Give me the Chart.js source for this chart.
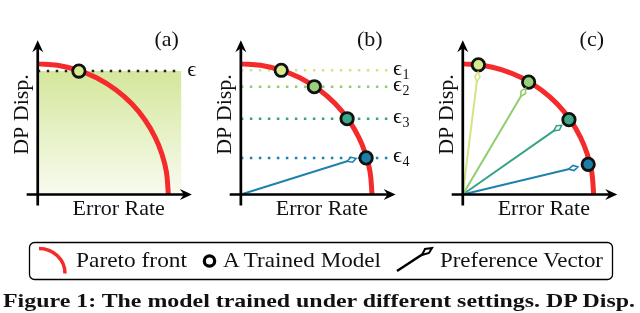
<!DOCTYPE html>
<html>
<head>
<meta charset="utf-8">
<script src="https://cdn.jsdelivr.net/npm/chart.js@4/dist/chart.umd.min.js"></script>
<style>
  body { margin: 0; background: #fff; width: 640px; height: 313px; overflow: hidden; position: relative; }
  canvas.panel { position: absolute; top: 20px; }
  #overlay { position: absolute; left: 0; top: 0; }
  #overlay text { font-family: "Liberation Serif", "DejaVu Serif", serif; font-size: 22px; fill: #111; }
</style>
</head>
<body>
<canvas id="panelA" class="panel" width="210" height="210" style="left:0px"></canvas>
<canvas id="panelB" class="panel" width="220" height="210" style="left:203px"></canvas>
<canvas id="panelC" class="panel" width="215" height="210" style="left:425px"></canvas>

<svg id="overlay" width="640" height="313">
  <rect x="29.5" y="242.5" width="583" height="37" rx="5" fill="none" stroke="#000" stroke-width="1.3"/>
  <path d="M39 248.5 A26 25 0 0 1 65 273.5" fill="none" stroke="#f52a2a" stroke-width="3.5"/>
  <text x="76" y="267" textLength="111" lengthAdjust="spacingAndGlyphs">Pareto front</text>
  <circle cx="209.5" cy="261" r="5.2" fill="#fff" stroke="#000" stroke-width="3.2"/>
  <text x="223" y="267" textLength="158" lengthAdjust="spacingAndGlyphs">A Trained Model</text>
  <line x1="397" y1="271" x2="423" y2="254" stroke="#000" stroke-width="2.5"/>
  <polygon points="422,255 425,249 432,248 429,253" fill="#fff" stroke="#000" stroke-width="2"/>
  <text x="440" y="267" textLength="163" lengthAdjust="spacingAndGlyphs">Preference Vector</text>
  <text x="3" y="307" font-weight="bold" style="font-size:19px" textLength="632" lengthAdjust="spacingAndGlyphs">Figure 1: The model trained under different settings. DP Disp.</text>
</svg>

<script>
// Pareto front (axes origin = 0,0; front reaches 1 on both axes)
const paretoX = [0, 0.15, 0.3, 0.45, 0.6, 0.72, 0.82, 0.9, 0.95, 0.985, 1.0];
const paretoY = [1.0, 0.989, 0.954, 0.893, 0.8, 0.694, 0.572, 0.436, 0.312, 0.173, 0.0];

// (a) one model under a single epsilon constraint
const modelAX = [0.315];
const modelAY = [0.945];
const epsA = 0.945;
const feasibleRightA = 1.1;

// (b) models under epsilon_1 .. epsilon_4
const modelBX = [0.308, 0.56, 0.81, 0.955];
const modelBY = [0.951, 0.825, 0.58, 0.28];
const epsSubB = ['1', '2', '3', '4'];
const vectorBX = [0.846];
const vectorBY = [0.266];

// (c) models under preference vectors
const modelCX = [0.119, 0.503, 0.811, 0.958];
const modelCY = [0.993, 0.86, 0.573, 0.231];
const vectorCX = [0.112, 0.462, 0.727, 0.846];
const vectorCY = [0.902, 0.783, 0.51, 0.203];

const modelColors = ['#d8ea8e', '#97d27a', '#3fa889', '#1c80a6'];
const lineColors = ['#d4e485', '#8fcd6f', '#35a38a', '#1f82ad'];

const RED = '#f52a2a';
const FONT = '"Liberation Serif", "DejaVu Serif", serif';
const UNIT = 142.86; // px per unit, same on both axes
const X_MIN = -0.22, Y_MIN = -0.203, Y_MAX = 1.267;

const toPoints = (xs, ys) => xs.map((x, i) => ({ x: x, y: ys[i] }));

function paretoDataset() {
    return {
        data: toPoints(paretoX, paretoY),
        showLine: true,
        borderColor: RED,
        borderWidth: 5,
        tension: 0.4,
        pointRadius: 0,
        fill: false,
        order: 1
    };
}

function modelDataset(xs, ys, colors) {
    return {
        data: toPoints(xs, ys),
        showLine: false,
        pointRadius: 6.2,
        pointBorderWidth: 2.8,
        pointBorderColor: '#111',
        pointBackgroundColor: colors,
        order: 0
    };
}

function epsDataset(y, right, color) {
    return {
        data: [{ x: 0, y: y }, { x: right, y: y }],
        showLine: true,
        borderColor: color,
        borderWidth: 2.5,
        borderDash: [2.5, 6.5],
        pointRadius: 0,
        fill: false,
        order: 3
    };
}

function vectorDataset(hx, hy, color) {
    return {
        data: [{ x: 0, y: 0 }, { x: hx, y: hy }],
        showLine: true,
        borderColor: color,
        borderWidth: 2,
        pointRadius: 0,
        fill: false,
        isVector: true,
        order: 2
    };
}

// Axes arrows, titles, panel letter, epsilon labels, vector heads
function decorPlugin(cfg) {
    return {
        id: 'decor',
        afterDatasetsDraw(chart) {
            const { ctx, scales } = chart;
            const px = v => scales.x.getPixelForValue(v);
            const py = v => scales.y.getPixelForValue(v);
            const ox = px(0), oy = py(0);
            ctx.save();

            // preference vector heads (open kite centred on the end point)
            chart.data.datasets.forEach((ds, i) => {
                if (!ds.isVector) return;
                const pts = chart.getDatasetMeta(i).data;
                const a = Math.atan2(pts[1].y - pts[0].y, pts[1].x - pts[0].x);
                ctx.save();
                ctx.translate(pts[1].x, pts[1].y);
                ctx.rotate(a);
                ctx.beginPath();
                ctx.moveTo(-5, 0);
                ctx.lineTo(0, -2.6);
                ctx.lineTo(4.5, 0);
                ctx.lineTo(0, 2.6);
                ctx.closePath();
                ctx.fillStyle = '#fff';
                ctx.fill();
                ctx.strokeStyle = ds.borderColor;
                ctx.lineWidth = 1.6;
                ctx.stroke();
                ctx.restore();
            });

            // axes
            const tipX = px(1.18), tipY = py(1.18);
            ctx.strokeStyle = '#000';
            ctx.fillStyle = '#000';
            ctx.lineWidth = 2.7;
            ctx.beginPath();
            ctx.moveTo(px(-0.085), oy);
            ctx.lineTo(tipX - 6, oy);
            ctx.moveTo(ox, py(-0.085));
            ctx.lineTo(ox, tipY + 6);
            ctx.stroke();
            ctx.beginPath();
            ctx.moveTo(tipX, oy);
            ctx.lineTo(tipX - 12, oy - 5.5);
            ctx.lineTo(tipX - 8, oy);
            ctx.lineTo(tipX - 12, oy + 5.5);
            ctx.closePath();
            ctx.fill();
            ctx.beginPath();
            ctx.moveTo(ox, tipY);
            ctx.lineTo(ox - 5.5, tipY + 12);
            ctx.lineTo(ox, tipY + 8);
            ctx.lineTo(ox + 5.5, tipY + 12);
            ctx.closePath();
            ctx.fill();

            // titles
            ctx.fillStyle = '#111';
            ctx.font = '22px ' + FONT;
            ctx.textAlign = 'center';
            ctx.textBaseline = 'alphabetic';
            ctx.fillText('Error Rate', ox + 81, oy + 21);
            ctx.fillText(cfg.letter, ox + 129, oy - 148);
            ctx.save();
            ctx.translate(ox - 10, oy - 80);
            ctx.rotate(-Math.PI / 2);
            ctx.fillText('DP Disp.', 0, 0);
            ctx.restore();

            // epsilon labels
            ctx.textAlign = 'left';
            (cfg.eps || []).forEach(e => {
                ctx.font = '22px ' + FONT;
                const x0 = px(e.x);
                const base = py(e.y) + 4.5;
                ctx.fillText('\u03F5', x0, base);
                if (e.sub) {
                    const w = ctx.measureText('\u03F5').width;
                    ctx.font = '14px ' + FONT;
                    ctx.fillText(e.sub, x0 + w + 0.5, base + 4);
                }
            });
            ctx.restore();
        }
    };
}

function makePanel(id, datasets, cfg) {
    const canvas = document.getElementById(id);
    return new Chart(canvas.getContext('2d'), {
        type: 'scatter',
        data: { datasets: datasets },
        options: {
            responsive: false,
            animation: false,
            events: [],
            layout: { padding: 0 },
            plugins: { legend: { display: false }, tooltip: { enabled: false } },
            scales: {
                x: { type: 'linear', display: false, min: X_MIN, max: X_MIN + canvas.width / UNIT },
                y: { type: 'linear', display: false, min: Y_MIN, max: Y_MAX }
            }
        },
        plugins: [decorPlugin(cfg)]
    });
}

// Panel (a)
function initPanelA() {
    const feasible = {
        data: [{ x: 0, y: epsA }, { x: feasibleRightA, y: epsA }],
        showLine: true,
        borderWidth: 0,
        borderColor: 'rgba(0,0,0,0)',
        pointRadius: 0,
        fill: 'origin',
        order: 4,
        backgroundColor: function(context) {
            const chart = context.chart;
            if (!chart.chartArea) return 'rgba(0,0,0,0)';
            const y = chart.scales.y;
            const g = chart.ctx.createLinearGradient(0, y.getPixelForValue(epsA), 0, y.getPixelForValue(0));
            g.addColorStop(0, '#d4e79b');
            g.addColorStop(1, '#f8fbf0');
            return g;
        }
    };
    makePanel('panelA', [
        modelDataset(modelAX, modelAY, [modelColors[0]]),
        paretoDataset(),
        epsDataset(epsA, 1.06, '#222'),
        feasible
    ], { letter: '(a)', eps: [{ x: 1.145, y: epsA }] });
}

// Panel (b)
function initPanelB() {
    const ds = [modelDataset(modelBX, modelBY, modelColors), paretoDataset()];
    modelBY.forEach((y, i) => ds.push(epsDataset(y, 1.125, lineColors[i])));
    ds.push(vectorDataset(vectorBX[0], vectorBY[0], lineColors[3]));
    makePanel('panelB', ds, {
        letter: '(b)',
        eps: modelBY.map((y, i) => ({ x: 1.16, y: y, sub: epsSubB[i] }))
    });
}

// Panel (c)
function initPanelC() {
    const ds = [modelDataset(modelCX, modelCY, modelColors), paretoDataset()];
    vectorCX.forEach((x, i) => ds.push(vectorDataset(x, vectorCY[i], lineColors[i])));
    makePanel('panelC', ds, { letter: '(c)' });
}

initPanelA();
initPanelB();
initPanelC();
</script>
</body>
</html>
